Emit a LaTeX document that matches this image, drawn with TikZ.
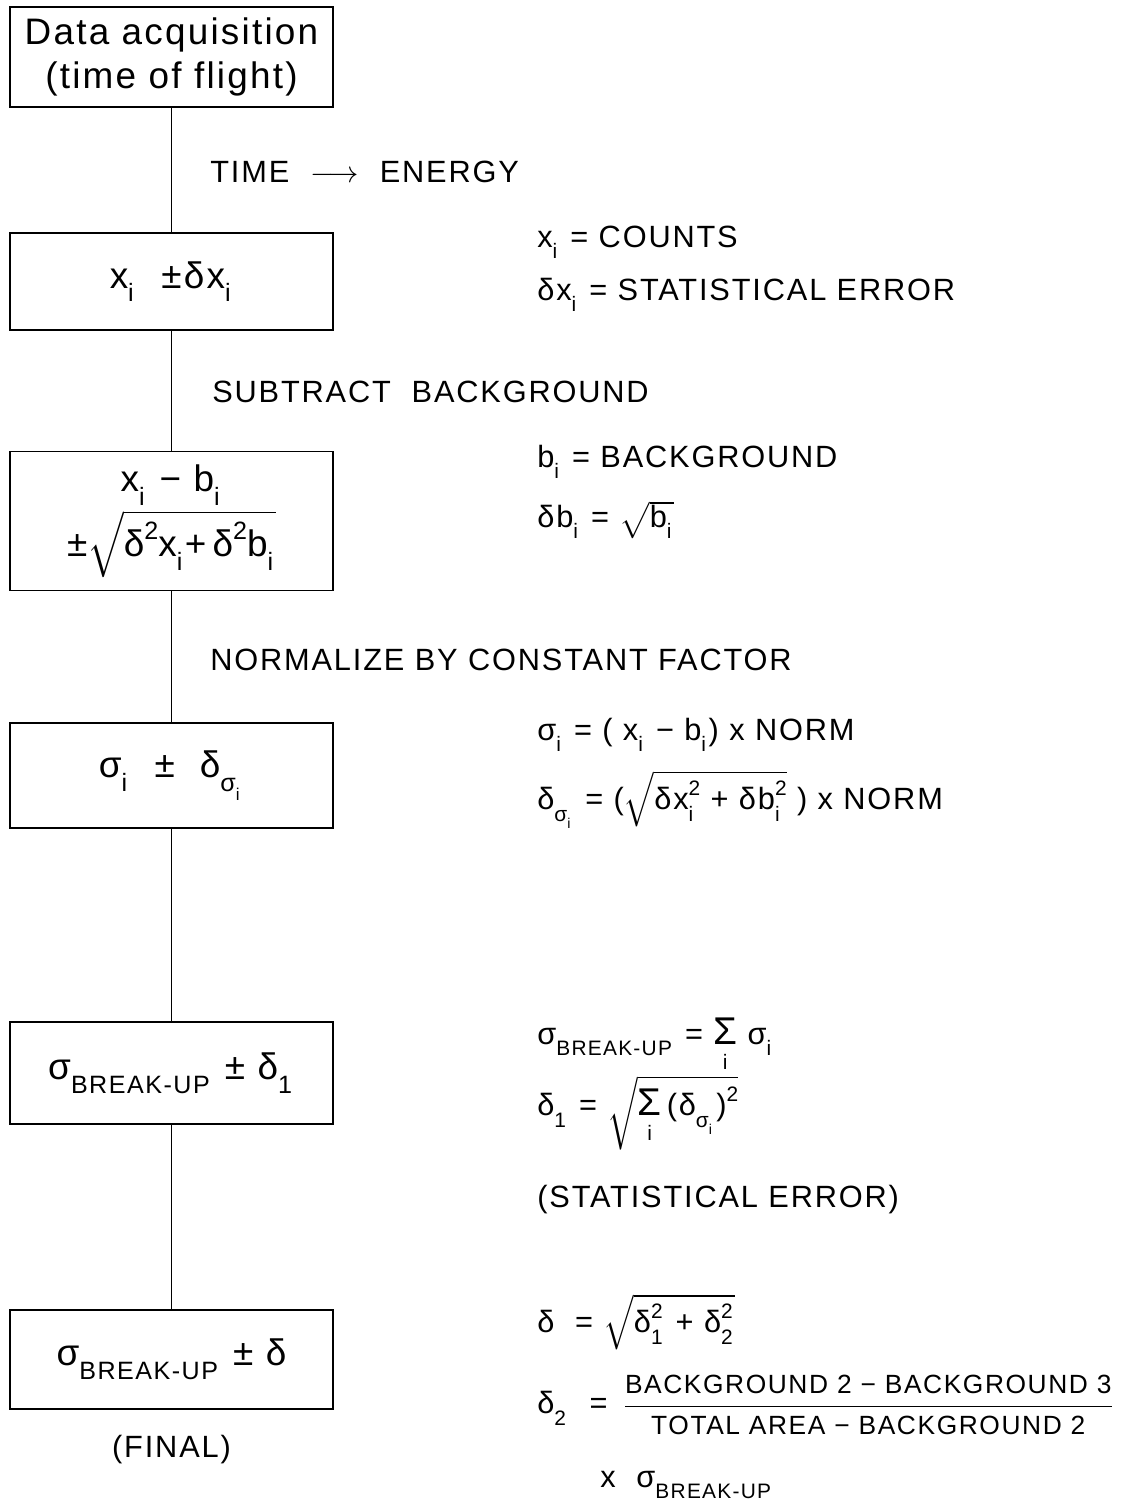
\documentclass[tikz,border=0pt]{standalone}
\usepackage{fontspec}
\usepackage{amsmath}
\usepackage{graphicx}
\setmainfont[LetterSpace=6]{Liberation Sans}
\usetikzlibrary{positioning}

\newcommand{\lo}[1]{\raisebox{-0.7ex}{\scalebox{0.68}{#1}}\kern1.5pt\relax}
\newcommand{\hi}[1]{\raisebox{0.9ex}{\scalebox{0.68}{#1}}}
\newcommand{\hilo}[2]{\ooalign{\hi{#1}\cr\lo{#2}\cr}}
\newcommand{\bigsz}{\fontsize{21}{25}\selectfont}
\newcommand{\midsz}{\fontsize{17.5}{21}\selectfont}
\newcommand{\smlsz}{\fontsize{15}{18}\selectfont}
\newcommand{\sumi}[1]{\mathop{\mbox{\fontsize{22}{22}\selectfont Σ}}\limits_{\mbox{\raisebox{-0.4ex}{\scalebox{0.68}{#1}}}}}

\tikzset{
  box/.style={draw, line width=1.1pt, minimum width=6.46cm, minimum height=2cm,
    inner sep=0pt, align=center, font=\bigsz},
  link/.style={line width=0.7pt},
  stage/.style={anchor=west, inner sep=0pt, font=\midsz},
  note/.style={anchor=west, inner sep=0pt, font=\midsz}
}

\begin{document}
\begin{tikzpicture}[x=0.02cm, y=-0.02cm]
  \useasboundingbox[fill=white] (0,0) rectangle (1130,1512);

  % processing steps
  \node[box] (acq) at (171.5,57) {Data acquisition\\(time of flight)};
  \node[box, minimum height=1.94cm] (cnt) at (171.5,281.5) {x\lo{i} \ ±δx\lo{i}};
  \node[box, minimum height=2.78cm] (bkg) at (171.5,521)
    {x\lo{i} − b\lo{i}\\[2pt] ±$\sqrt{\mbox{δ\hi{2}x\lo{i}+\,δ\hi{2}b\lo{i}}}$};
  \node[box, minimum height=2.1cm] (nrm) at (171.5,775.5) {σ\lo{i} \ ± \ δ\lo{σ\lo{i}}};
  \node[box, minimum height=2.04cm] (brk) at (171.5,1073) {σ\lo{BREAK-UP} ± δ\lo{1}};
  \node[box, minimum height=1.98cm] (fin) at (171.5,1359.5) {σ\lo{BREAK-UP} ± δ};
  \node[font=\midsz, inner sep=0pt, below=0.5cm of fin] (finlab) {(FINAL)};

  \draw[link] (acq.south) -- (cnt.north);
  \draw[link] (cnt.south) -- (bkg.north);
  \draw[link] (bkg.south) -- (nrm.north);
  \draw[link] (nrm.south) -- (brk.north);
  \draw[link] (brk.south) -- (fin.north);

  % operations between steps
  \node[stage] (tof) at (210,172) {TIME \ $\longrightarrow$ \ ENERGY};
  \node[stage] (sbt) at (212,392) {SUBTRACT \ BACKGROUND};
  \node[stage] (nbc) at (210,660) {NORMALIZE BY CONSTANT FACTOR};

  % definitions
  \node[note] (dx) at (537,242) {x\lo{i} = COUNTS};
  \node[note] (ddx) at (537,295) {δx\lo{i} = STATISTICAL ERROR};
  \node[note] (db) at (537,462) {b\lo{i} = BACKGROUND};
  \node[note] (ddb) at (537,520) {δb\lo{i} = $\sqrt{\mbox{b\lo{i}}}$};
  \node[note] (ds) at (537,735) {σ\lo{i} = ( x\lo{i} − b\lo{i}) x NORM};
  \node[note] (dds) at (537,800)
    {δ\lo{σ\lo{i}} = ($\sqrt{\mbox{δx\hilo{2}{i} + δb\hilo{2}{i}}}$ ) x NORM};
  \node[note] (dbrk) at (537,1045) {σ\lo{BREAK-UP} = $\sumi{i}$ σ\lo{i}};
  \node[note] (dd1) at (537,1113) {δ\lo{1} = $\sqrt{\sumi{i}\mbox{(δ\lo{σ\lo{i}})\hi{2}}}$};
  \node[note] (dstat) at (537,1200) {(STATISTICAL ERROR)};
  \node[note] (dd) at (537,1322) {δ \ = $\sqrt{\mbox{δ\hilo{2}{1} + δ\hilo{2}{2}}}$};
  \node[note] (dd2) at (537,1405)
    {δ\lo{2} \ = $\,\dfrac{\mbox{\smlsz BACKGROUND 2 − BACKGROUND 3}}{\mbox{\smlsz TOTAL AREA − BACKGROUND 2}}$};
  \node[note] (dmul) at (600,1485) {x \ σ\lo{BREAK-UP}};
\end{tikzpicture}
\end{document}
